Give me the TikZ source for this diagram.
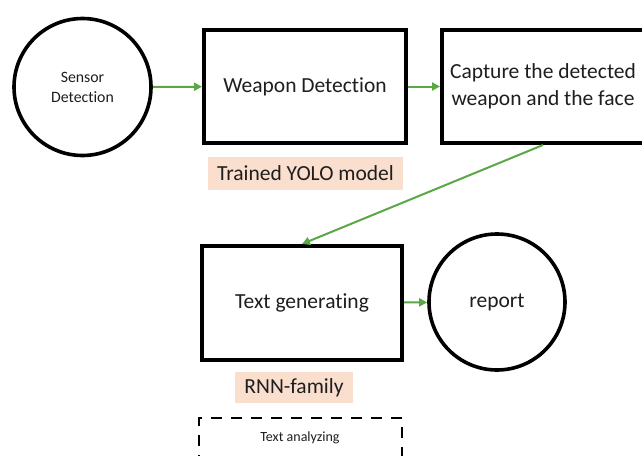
\documentclass[tikz,border=0pt]{standalone}
\usepackage{fontspec}
\setmainfont{Carlito}[Ligatures=NoCommon]
\usetikzlibrary{arrows.meta}
\definecolor{arrgreen}{HTML}{5AA845}
\definecolor{labpink}{HTML}{FADFCF}
\definecolor{txt}{HTML}{1E1E1E}
\tikzset{
  blockbox/.style={draw=black, line width=4pt, fill=white, rectangle, inner sep=0pt, text=txt},
  roundbox/.style={draw=black, line width=3.6pt, fill=white, circle, inner sep=0pt, text=txt},
  tag/.style={fill=labpink, rectangle, inner sep=0pt, text=txt, font=\fontsize{21.5}{25}\selectfont},
  flow/.style={draw=arrgreen, line width=2pt, -{Triangle[length=8pt,width=8pt]}},
  bigtxt/.style={font=\fontsize{21.5}{27}\selectfont, align=center},
}
\begin{document}
\begin{tikzpicture}[x=1pt,y=-1pt]
\useasboundingbox (0,0) rectangle (642,455);
\fill[white] (0,0) rectangle (642,455);
\node[roundbox, minimum size=137pt, align=center, font=\fontsize{15.8}{20}\selectfont] (sensor) at (82.5,87) {Sensor\\Detection};
\node[blockbox, bigtxt, minimum width=202pt, minimum height=113pt] (weapon) at (305,86.5) {Weapon Detection};
\node[blockbox, bigtxt, minimum width=202pt, minimum height=113pt] (capture) at (543,86.5) {Capture the detected\\weapon and the face};
\node[tag, minimum width=195pt, minimum height=33pt] (yolo) at (305.5,173.5) {Trained YOLO model};
\node[blockbox, bigtxt, minimum width=200pt, minimum height=114pt] (textgen) at (302,303) {Text generating};
\node[roundbox, bigtxt, minimum size=136pt] (report) at (497,302) {report};
\node[tag, minimum width=118pt, minimum height=31pt] (rnn) at (294,387.5) {RNN-family};
\node[draw=black, line width=2.5pt, dash pattern=on 11pt off 9pt, rectangle, inner sep=0pt, minimum width=203pt, minimum height=117pt, anchor=north] (analyze) at (300.5,416.5) {};
\node[text=txt, font=\fontsize{14}{17}\selectfont] (analyzetxt) at (300,438) {Text analyzing};
\draw[flow] (sensor) -- (weapon);
\draw[flow] (weapon) -- (capture);
\draw[flow] (capture.south) -- (textgen.north);
\draw[flow] (textgen) -- (report);
\end{tikzpicture}
\end{document}
